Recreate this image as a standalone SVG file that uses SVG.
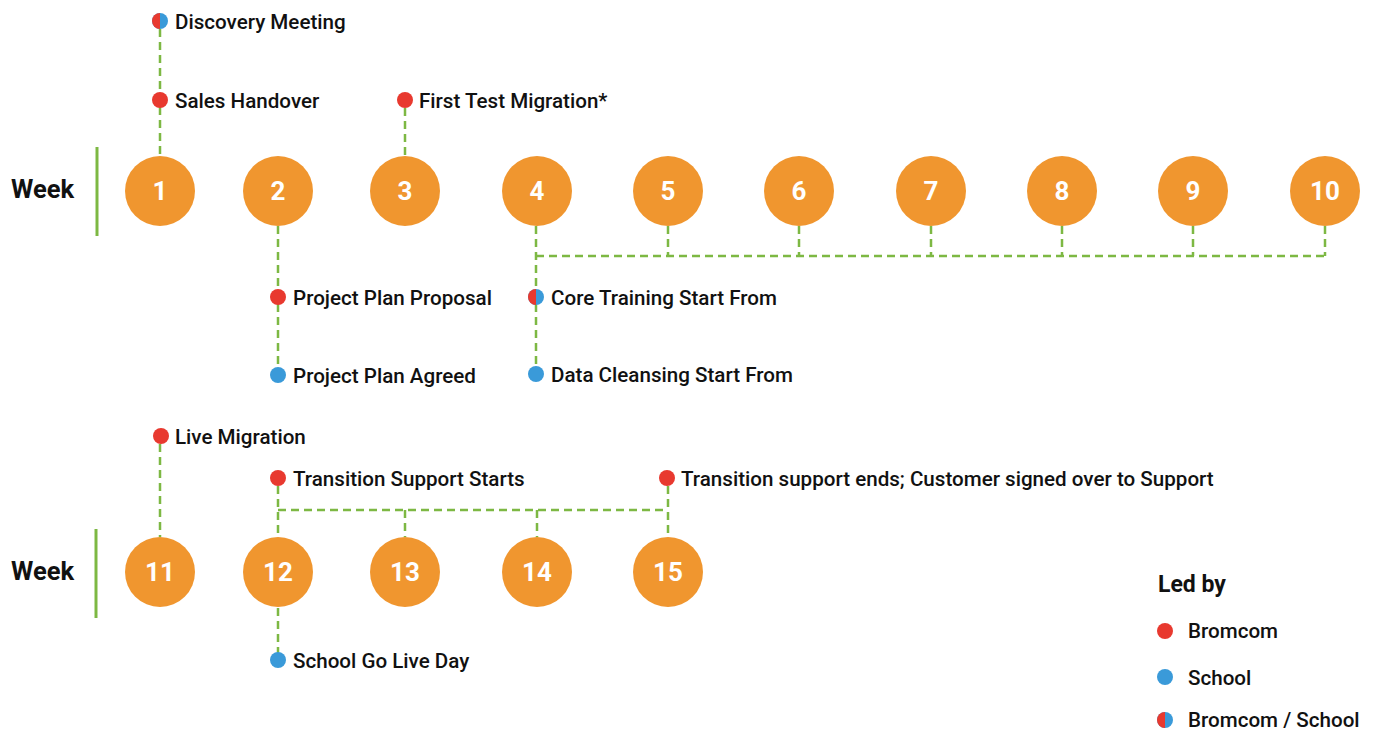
<svg xmlns="http://www.w3.org/2000/svg" width="1377" height="731" viewBox="0 0 1377 731">
<style>
.wk{font-family:Roboto,"Liberation Sans",sans-serif;font-weight:700;font-size:25.5px;fill:#111}
.num{font-family:Roboto,"Liberation Sans",sans-serif;font-weight:700;font-size:26px;fill:#fff;text-anchor:middle}
.lb{font-family:Roboto,"Liberation Sans",sans-serif;font-weight:500;font-size:20.6px;fill:#111}
.c{fill:#F0962F}
.r{fill:#E8392F}
.b{fill:#3A9AD9}
.d{stroke:#7DB843;stroke-width:2.5;stroke-dasharray:8 5;fill:none}
.sep{stroke:#7DB843;stroke-width:3}
</style>
<defs>
<clipPath id="lh"><rect x="-10" y="-10" width="10" height="20"/></clipPath>
<g id="half"><circle r="8" class="b"/><circle r="8" class="r" clip-path="url(#lh)"/></g>
</defs>
<rect width="1377" height="731" fill="#fff"/>
<g id="connectors">
<line class="d" x1="160" y1="29" x2="160" y2="155"/>
<line class="d" x1="405" y1="108" x2="405" y2="155"/>
<line class="d" x1="278" y1="226" x2="278" y2="375"/>
<line class="d" x1="536" y1="226" x2="536" y2="374"/>
<polyline class="d" points="536,256 1325,256"/>
<line class="d" x1="668" y1="226" x2="668" y2="256"/>
<line class="d" x1="799" y1="226" x2="799" y2="256"/>
<line class="d" x1="931" y1="226" x2="931" y2="256"/>
<line class="d" x1="1062" y1="226" x2="1062" y2="256"/>
<line class="d" x1="1193" y1="226" x2="1193" y2="256"/>
<line class="d" x1="1325" y1="226" x2="1325" y2="256"/>
<line class="d" x1="160" y1="444" x2="160" y2="537"/>
<line class="d" x1="278" y1="486" x2="278" y2="537"/>
<line class="d" x1="668" y1="486" x2="668" y2="537"/>
<line class="d" x1="278" y1="510" x2="668" y2="510"/>
<line class="d" x1="405" y1="510" x2="405" y2="537"/>
<line class="d" x1="537" y1="510" x2="537" y2="537"/>
<line class="d" x1="278" y1="608" x2="278" y2="660"/>
</g>
<g id="row1-label"><text class="wk" x="11" y="198">Week</text><line class="sep" x1="97" y1="147" x2="97" y2="236"/></g>
<g id="row2-label"><text class="wk" x="11" y="580">Week</text><line class="sep" x1="96" y1="529" x2="96" y2="618"/></g>
<g id="w1"><circle class="c" cx="160" cy="191" r="35"/><text class="num" x="160" y="200">1</text></g>
<g id="w2"><circle class="c" cx="278" cy="191" r="35"/><text class="num" x="278" y="200">2</text></g>
<g id="w3"><circle class="c" cx="405" cy="191" r="35"/><text class="num" x="405" y="200">3</text></g>
<g id="w4"><circle class="c" cx="537" cy="191" r="35"/><text class="num" x="537" y="200">4</text></g>
<g id="w5"><circle class="c" cx="668" cy="191" r="35"/><text class="num" x="668" y="200">5</text></g>
<g id="w6"><circle class="c" cx="799" cy="191" r="35"/><text class="num" x="799" y="200">6</text></g>
<g id="w7"><circle class="c" cx="931" cy="191" r="35"/><text class="num" x="931" y="200">7</text></g>
<g id="w8"><circle class="c" cx="1062" cy="191" r="35"/><text class="num" x="1062" y="200">8</text></g>
<g id="w9"><circle class="c" cx="1193" cy="191" r="35"/><text class="num" x="1193" y="200">9</text></g>
<g id="w10"><circle class="c" cx="1325" cy="191" r="35"/><text class="num" x="1325" y="200">10</text></g>
<g id="w11"><circle class="c" cx="160" cy="572" r="35"/><text class="num" x="160" y="581">11</text></g>
<g id="w12"><circle class="c" cx="278" cy="572" r="35"/><text class="num" x="278" y="581">12</text></g>
<g id="w13"><circle class="c" cx="405" cy="572" r="35"/><text class="num" x="405" y="581">13</text></g>
<g id="w14"><circle class="c" cx="537" cy="572" r="35"/><text class="num" x="537" y="581">14</text></g>
<g id="w15"><circle class="c" cx="668" cy="572" r="35"/><text class="num" x="668" y="581">15</text></g>
<g id="e-discovery"><use href="#half" x="160" y="21"/><text class="lb" x="175" y="29">Discovery Meeting</text></g>
<g id="e-sales"><circle class="r" cx="160" cy="100" r="8"/><text class="lb" x="175" y="108">Sales Handover</text></g>
<g id="e-firsttest"><circle class="r" cx="405" cy="100" r="8"/><text class="lb" x="419" y="108">First Test Migration*</text></g>
<g id="e-ppp"><circle class="r" cx="278" cy="297" r="8"/><text class="lb" x="293" y="305">Project Plan Proposal</text></g>
<g id="e-ppa"><circle class="b" cx="278" cy="375" r="8"/><text class="lb" x="293" y="383">Project Plan Agreed</text></g>
<g id="e-core"><use href="#half" x="536" y="297"/><text class="lb" x="551" y="305">Core Training Start From</text></g>
<g id="e-data"><circle class="b" cx="536" cy="374" r="8"/><text class="lb" x="551" y="382">Data Cleansing Start From</text></g>
<g id="e-live"><circle class="r" cx="161" cy="436" r="8"/><text class="lb" x="175" y="444">Live Migration</text></g>
<g id="e-tss"><circle class="r" cx="278" cy="478" r="8"/><text class="lb" x="293" y="486">Transition Support Starts</text></g>
<g id="e-tse"><circle class="r" cx="667" cy="478" r="8"/><text class="lb" x="681" y="486">Transition support ends; Customer signed over to Support</text></g>
<g id="e-golive"><circle class="b" cx="278" cy="660" r="8"/><text class="lb" x="293" y="668">School Go Live Day</text></g>
<g id="legend">
<text class="wk" x="1158" y="592" style="font-size:23px">Led by</text>
<circle class="r" cx="1165" cy="631" r="8"/><text class="lb" x="1188" y="638">Bromcom</text>
<circle class="b" cx="1165" cy="677" r="8"/><text class="lb" x="1188" y="685">School</text>
<use href="#half" x="1165" y="720"/><text class="lb" x="1188" y="727">Bromcom / School</text>
</g>
</svg>
